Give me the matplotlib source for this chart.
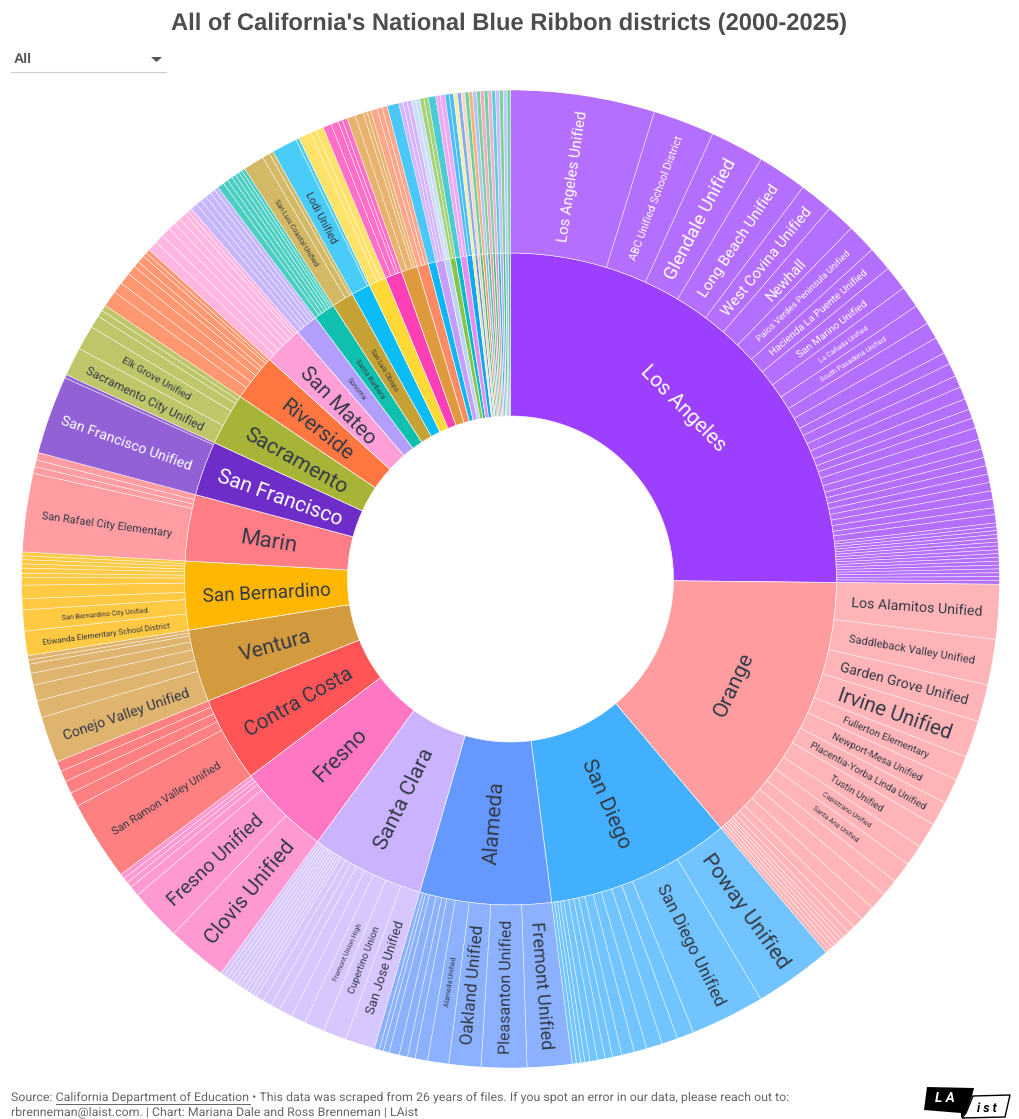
import matplotlib
matplotlib.use("Agg")
import numpy as np
import matplotlib.pyplot as plt
from matplotlib.colors import to_rgba
from matplotlib.font_manager import FontProperties
from matplotlib.lines import Line2D
from matplotlib.patches import Polygon
from matplotlib.textpath import TextPath

W, H = 1020, 1119
plt.rcParams["font.family"] = ["Roboto", "DejaVu Sans"]
plt.rcParams["text.hinting"] = "no_hinting"
plt.rcParams["text.hinting_factor"] = 8

# ---- data: share of the circle for each district ----
los_angeles_names = ["Los Angeles Unified", "ABC Unified School District", "Glendale Unified",
                     "Long Beach Unified", "West Covina Unified", "Newhall",
                     "Palos Verdes Peninsula Unified", "Hacienda La Puente Unified",
                     "San Marino Unified", "La Cañada Unified", "South Pasadena Unified"]
los_angeles_values = [17.1, 7.3, 6.4, 5.9, 4.0, 3.4, 3.5, 2.9, 2.9, 2.6, 2.4, 2.0, 2.0, 1.4, 1.6, 1.4,
                      1.5, 1.3, 1.1, 1.2, 1.4, 1.2, 1.0, 1.0, 1.0, 1.0, 1.0, 1.0, 1.0, 0.8, 1.0,
                      0.45, 0.45, 0.45, 0.45, 0.45, 0.45, 0.45, 0.45, 0.45, 0.45, 0.45, 0.45, 0.45,
                      0.45, 0.45, 0.45]
orange_names = ["Los Alamitos Unified", "Saddleback Valley Unified", "Garden Grove Unified",
                "Irvine Unified", "Fullerton Elementary", "Newport-Mesa Unified",
                "Placentia-Yorba Linda Unified", "Tustin Unified", "Capistrano Unified",
                "Santa Ana Unified"]
orange_values = [6.5, 5.4, 4.4, 4.4, 2.9, 3.0, 2.9, 3.0, 2.5, 2.5, 2.0, 2.1, 1.8, 1.3, 0.9, 0.7,
                 0.47, 0.47, 0.47, 0.47, 0.47, 0.47]
san_diego_names = ["Poway Unified", "San Diego Unified"]
san_diego_values = [9.4, 8.8, 2.0, 1.9, 1.9, 1.5, 1.5, 1.1, 0.9, 0.9, 0.9, 0.6, 0.5, 0.5, 0.5]
alameda_names = ["Fremont Unified", "Pleasanton Unified", "Oakland Unified", "Alameda Unified"]
alameda_values = [5.3, 5.4, 3.8, 2.5, 1.5, 0.9, 1.0, 1.2, 0.7, 0.5, 0.6]
santa_clara_names = ["San Jose Unified", "Cupertino Union", "Fremont Union High"]
santa_clara_values = [3.5, 2.8, 2.4, 1.7, 1.6, 1.1, 1.1, 0.9, 0.45, 0.45, 0.45, 0.45, 0.45, 0.45,
                      0.45, 0.45, 0.45, 0.45, 0.5]
fresno_names = ["Clovis Unified", "Fresno Unified"]
fresno_values = [7.2, 6.2, 1.2, 0.7, 0.6, 0.6]
contra_costa_names = ["San Ramon Valley Unified"]
contra_costa_values = [9.5, 1.7, 1.5, 1.3, 1.2]
ventura_names = ["Conejo Valley Unified"]
ventura_values = [5.5, 2.0, 1.9, 1.4, 1.1, 0.5, 0.5]
san_bernardino_names = ["Etiwanda Elementary School District", "San Bernardino City Unified"]
san_bernardino_values = [2.9, 2.5, 1.3, 1.6, 0.9, 0.5, 0.6, 0.5, 0.5, 0.45, 0.45]
marin_names = ["San Rafael City Elementary"]
marin_values = [9.3, 0.8, 0.8, 0.9]
san_francisco_names = ["San Francisco Unified"]
san_francisco_values = [9.3, 0.4]
sacramento_names = ["Sacramento City Unified", "Elk Grove Unified"]
sacramento_values = [3.4, 2.9, 1.5, 0.8, 0.7]
riverside_values = [1.9, 1.3, 1.4, 1.1, 0.7, 0.9, 0.5, 0.5]
san_mateo_values = [1.2, 1.1, 1.1, 0.9, 0.8, 0.8, 0.5, 0.5]
sonoma_values = [0.8, 0.7, 0.7, 0.7, 0.6, 0.5]
santa_barbara_values = [0.8, 0.6, 0.6, 0.5, 0.5, 0.4, 0.4]
san_luis_obispo_names = ["San Luis Coastal Unified"]
san_luis_obispo_values = [2.5, 0.9, 0.5]
lodi_names = ["Lodi Unified"]
lodi_values = [3.0, 0.4]

counties = ["Los Angeles", "Orange", "San Diego", "Alameda", "Santa Clara", "Fresno", "Contra Costa",
            "Ventura", "San Bernardino", "Marin", "San Francisco", "Sacramento", "Riverside",
            "San Mateo", "Sonoma", "Santa Barbara", "San Luis Obispo", "San Joaquin"]
county_values = [los_angeles_values, orange_values, san_diego_values, alameda_values,
                 santa_clara_values, fresno_values, contra_costa_values, ventura_values,
                 san_bernardino_values, marin_values, san_francisco_values, sacramento_values,
                 riverside_values, san_mateo_values, sonoma_values, santa_barbara_values,
                 san_luis_obispo_values, lodi_values]
county_names = [los_angeles_names, orange_names, san_diego_names, alameda_names, santa_clara_names,
                fresno_names, contra_costa_names, ventura_names, san_bernardino_names, marin_names,
                san_francisco_names, sacramento_names, [], [], [], [], san_luis_obispo_names,
                lodi_names]
county_colors = ["#9d3fff", "#ff9c9f", "#42b0ff", "#6699ff", "#cbb3ff", "#ff77c3", "#ff5557",
                 "#d49b3e", "#ffb703", "#ff7d84", "#6e2cc9", "#a8b437", "#ff7640", "#ff9fd8",
                 "#b49efc", "#0fc0ae", "#c5a233", "#0cbcf6"]

# the unlabelled small counties at the top of the ring
small_values = [[1.5, 0.7, 0.9], [1.0, 0.9, 0.5, 0.6], [1.0, 1.0, 0.45, 0.45], [0.8, 0.6, 0.6],
                [1.4], [0.5, 0.5, 0.5], [0.5, 0.5], [0.5, 0.5], [0.9], [0.55, 0.55], [0.5, 0.5],
                [0.45], [0.45], [0.45], [0.45], [0.45], [0.45], [0.45], [0.45], [0.45], [0.45],
                [0.45], [0.45], [0.45], [0.45], [0.4]]
small_colors = ["#ffd935", "#ff3fb6", "#e09a3e", "#ff8a63", "#0cb6f7", "#c79cfb", "#b9d3f9",
                "#86c44a", "#0cbbc8", "#e78df0", "#0ca8f5", "#f3e88a", "#5b93e0", "#f2c9b8",
                "#3cc27c", "#f7975a", "#8fb5f5", "#55c17a", "#f58bb5", "#3fc984", "#f48fc8",
                "#20c0cf", "#b8a6f7", "#55c27c", "#9cc0f7", "#4cc07e"]

all_values = county_values + small_values
all_colors = county_colors + small_colors

# label length along the text, px
label_span = {"Los Angeles": 110, "Orange": 67, "San Diego": 94, "Alameda": 82, "Santa Clara": 108,
              "Fresno": 64, "Contra Costa": 119, "Ventura": 72, "San Bernardino": 127, "Marin": 54,
              "San Francisco": 130, "Sacramento": 113, "Riverside": 84, "San Mateo": 98,
              "Sonoma": 26, "Santa Barbara": 46, "San Luis Obispo": 48, "San Joaquin": 0,
              "Los Angeles Unified": 130, "ABC Unified School District": 132, "Glendale Unified": 132,
              "Long Beach Unified": 130, "West Covina Unified": 134, "Newhall": 50,
              "Palos Verdes Peninsula Unified": 126, "Hacienda La Puente Unified": 124,
              "San Marino Unified": 86, "La Cañada Unified": 58, "South Pasadena Unified": 76,
              "Los Alamitos Unified": 129, "Saddleback Valley Unified": 126,
              "Garden Grove Unified": 130, "Irvine Unified": 116, "Fullerton Elementary": 92,
              "Newport-Mesa Unified": 98, "Placentia-Yorba Linda Unified": 130, "Tustin Unified": 60,
              "Capistrano Unified": 57, "Santa Ana Unified": 55, "Poway Unified": 133,
              "San Diego Unified": 132, "Fremont Unified": 126, "Pleasanton Unified": 132,
              "Oakland Unified": 118, "Alameda Unified": 50, "San Jose Unified": 96,
              "Cupertino Union": 70, "Fremont Union High": 61, "Clovis Unified": 126,
              "Fresno Unified": 122, "San Ramon Valley Unified": 126, "Conejo Valley Unified": 131,
              "Etiwanda Elementary School District": 128, "San Bernardino City Unified": 85,
              "San Rafael City Elementary": 131, "San Francisco Unified": 136,
              "Sacramento City Unified": 129, "Elk Grove Unified": 76,
              "San Luis Coastal Unified": 76, "Lodi Unified": 55}
tangential = {"Los Angeles", "Orange"}
white_text = {"Los Angeles", "San Francisco", "San Francisco Unified"} | set(los_angeles_names)

# ---- layout: centre (510.5, 579), radius 489 px, ring widths 163 px ----
CX, CY, R = 510.5, 579.0, 489.0
fig = plt.figure(figsize=(W / 100, H / 100), dpi=100, facecolor="white")
ax = fig.add_axes([(CX - R) / W, 1 - (CY + R) / H, 2 * R / W, 2 * R / H], projection="polar")
ax.set_theta_zero_location("N")
ax.set_theta_direction(-1)
ax.set_ylim(0, 3)
ax.axis("off")

total = sum(sum(v) for v in all_values)
to_rad = 2 * np.pi / total


def font_size(text, span):
    fp = FontProperties(family="Roboto")
    width = TextPath((0, 0), text, size=100, prop=fp).get_extents().width
    return 100 * span / width * 0.72


def label(text, theta, r):
    deg = np.degrees(theta) % 360
    rot = -deg if text in tangential else (90 - deg if deg < 180 else 270 - deg)
    rot = (rot + 90) % 180 - 90
    ax.text(theta, r, text, rotation=rot, rotation_mode="anchor", ha="center",
            va="center_baseline", fontsize=font_size(text, label_span[text]),
            color="white" if text in white_text else "#353a48", zorder=5)


start = 0.0
for i, (vals, col) in enumerate(zip(all_values, all_colors)):
    span = sum(vals)
    ax.bar(start * to_rad, 1, width=span * to_rad, bottom=1, align="edge", color=col,
           edgecolor=to_rgba("white", 0.85), linewidth=0.5)
    pos = start
    for v in vals:
        ax.bar(pos * to_rad, 1, width=v * to_rad, bottom=2, align="edge",
               facecolor=to_rgba(col, 0.75), edgecolor=to_rgba("white", 0.7), linewidth=0.45)
        pos += v
    if i < len(counties):
        if label_span[counties[i]]:
            label(counties[i], (start + span / 2) * to_rad, 1.5)
        pos = start
        for name, v in zip(county_names[i], vals):
            label(name, (pos + v / 2) * to_rad, 2.5)
            pos += v
    start += span


# ---- page furniture, placed in pixel coordinates ----
def fx(x):
    return x / W


def fy(y):
    return 1 - y / H


def poly(points, **kw):
    fig.add_artist(Polygon([(fx(x), fy(y)) for x, y in points], closed=True,
                           transform=fig.transFigure, **kw))


fig.text(fx(509.5), fy(24), "All of California's National Blue Ribbon districts (2000-2025)",
         ha="center", va="center", fontsize=17.1, fontweight="bold", color="#4d4d4d",
         family=["Liberation Sans", "DejaVu Sans"])
fig.text(fx(14), fy(59), "All", ha="left", va="center", fontsize=10.2, fontweight="bold",
         color="#555555", family=["Liberation Sans", "DejaVu Sans"])
poly([(151, 57), (162, 57), (156.5, 62)], facecolor="#555555", edgecolor="none")
fig.add_artist(Line2D([fx(11), fx(166)], [fy(72), fy(72)], color="#cccccc", linewidth=0.8))

fig.text(fx(11), fy(1097.5), "Source: California Department of Education • This data was scraped "
         "from 26 years of files. If you spot an error in our data, please reach out to:",
         ha="left", va="center", fontsize=8.9, color="#666666")
fig.text(fx(11), fy(1112), "rbrenneman@laist.com. | Chart: Mariana Dale and Ross Brenneman | LAist",
         ha="left", va="center", fontsize=8.9, color="#666666")
fig.add_artist(Line2D([fx(56), fx(250)], [fy(1104), fy(1104)], color="#666666", linewidth=0.7))

poly([(927, 1087), (974, 1088), (972, 1096), (966, 1113), (961, 1118), (961, 1113), (924, 1110)],
     facecolor="black", edgecolor="none")
poly([(973, 1096), (1010, 1095), (1005, 1117), (962, 1118), (966, 1113)], facecolor="white",
     edgecolor="black", linewidth=1.0)
fig.text(fx(945), fy(1098.5), "L A", color="white", fontsize=10, fontweight="bold", style="italic",
         ha="center", va="center")
fig.text(fx(987), fy(1108), "i s t", color="black", fontsize=9, fontweight="bold", style="italic",
         ha="center", va="center")

fig.savefig("out.png", dpi=100, facecolor="white")
